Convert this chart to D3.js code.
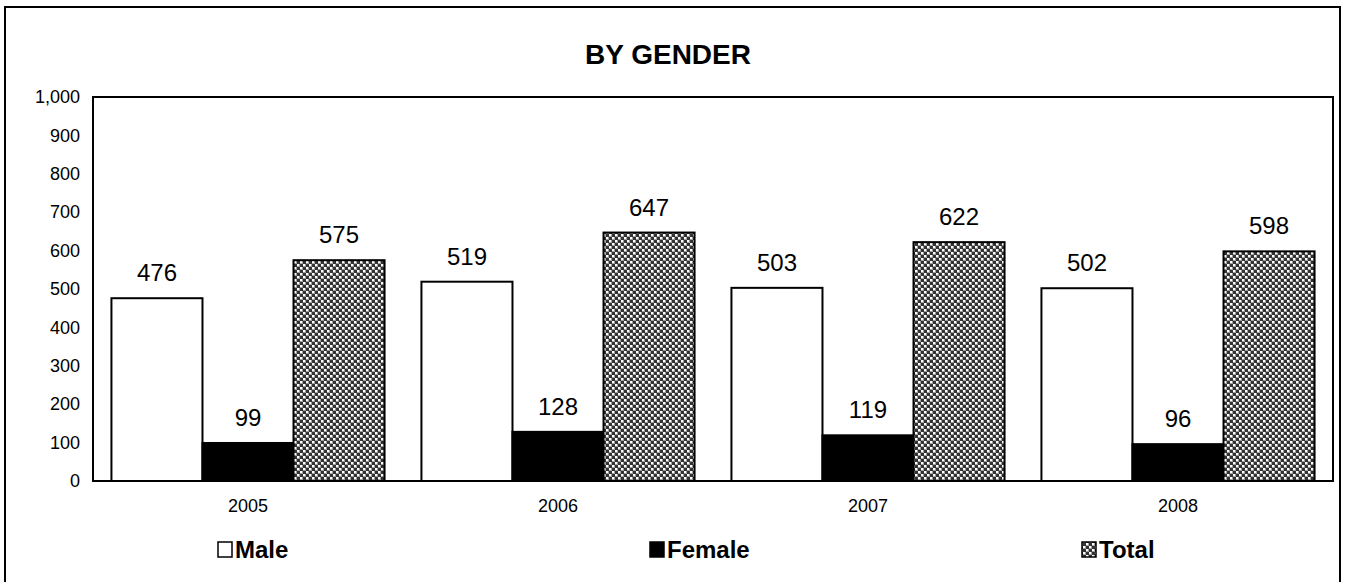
<!DOCTYPE html>
<html><head><meta charset="utf-8">
<script src="https://cdn.jsdelivr.net/npm/d3@7"></script>
<style>body{margin:0;background:#fff;font-family:"Liberation Sans",Arial,sans-serif;}</style>
</head><body><svg id="c" width="1346" height="582"></svg>
<script>
const years = ["2005","2006","2007","2008"];
const series = ["Male","Female","Total"];
const male = [476,519,503,502];
const female = [99,128,119,96];
const total = [575,647,622,598];
const yTicks = [0,100,200,300,400,500,600,700,800,900,1000];

const values = {Male: male, Female: female, Total: total};
const svg = d3.select("#c");
const font = '"Liberation Sans",Arial,sans-serif';

const defs = svg.append("defs");
const pat = defs.append("pattern").attr("id","chk").attr("patternUnits","userSpaceOnUse")
  .attr("width",6).attr("height",6);
pat.append("rect").attr("width",6).attr("height",6).attr("fill","#a0a0a0");
pat.append("rect").attr("x",0).attr("y",0).attr("width",3).attr("height",3).attr("fill","#333");
pat.append("rect").attr("x",3).attr("y",3).attr("width",3).attr("height",3).attr("fill","#333");
pat.append("rect").attr("x",3).attr("y",0).attr("width",2).attr("height",2).attr("fill","#fff");
pat.append("rect").attr("x",0).attr("y",3).attr("width",2).attr("height",2).attr("fill","#fff");
const fills = {Male:"#fff", Female:"#000", Total:"url(#chk)"};

// outer border
svg.append("rect").attr("x",5).attr("y",7).attr("width",1335).attr("height",580)
  .attr("fill","none").attr("stroke","#000").attr("stroke-width",2);

const L=93, R=1333, T=97, B=481;
const x0 = d3.scaleBand().domain(years).range([L,R]).paddingInner(0.119).paddingOuter(0.0595);
const x1 = d3.scaleBand().domain(series).range([0,x0.bandwidth()]);
const y = d3.scaleLinear().domain([0,1000]).range([B,T]);

svg.append("text").attr("x",668).attr("y",64).attr("text-anchor","middle")
  .attr("font-family",font).attr("font-size",28).attr("font-weight","bold").text("BY GENDER");

// y axis labels
const yAxis = d3.axisLeft(y).tickValues(yTicks).tickSize(0).tickPadding(13)
  .tickFormat(d3.format(","));
const ya = svg.append("g").attr("transform",`translate(${L},0)`).call(yAxis);
ya.select(".domain").remove();
ya.selectAll("text").attr("font-family",font).attr("font-size",18).attr("fill","#000");

// x axis labels
const xa = svg.append("g").attr("transform",`translate(0,${B})`)
  .call(d3.axisBottom(x0).tickSize(0).tickPadding(18));
xa.select(".domain").remove();
xa.selectAll("text").attr("font-family",font).attr("font-size",18).attr("fill","#000");

// bars
const g = svg.append("g");
years.forEach((yr,i)=>{
  series.forEach(s=>{
    const v = values[s][i];
    const bx = x0(yr)+x1(s);
    g.append("rect").attr("x",bx).attr("y",y(v)).attr("width",x1.bandwidth())
      .attr("height",y(0)-y(v)).attr("fill",fills[s]).attr("stroke","#000").attr("stroke-width",2);
    g.append("text").attr("x",bx+x1.bandwidth()/2).attr("y",y(v)-17).attr("text-anchor","middle")
      .attr("font-family",font).attr("font-size",24).attr("fill","#000").text(v);
  });
});

// plot frame
svg.append("rect").attr("x",L).attr("y",T).attr("width",R-L).attr("height",B-T)
  .attr("fill","none").attr("stroke","#000").attr("stroke-width",2);

// legend
const legX = d3.scalePoint().domain(series).range([218,1082]);
series.forEach(s=>{
  const lx = legX(s);
  svg.append("rect").attr("x",lx).attr("y",542).attr("width",14).attr("height",15)
    .attr("fill",fills[s]).attr("stroke","#000").attr("stroke-width",1.5);
  svg.append("text").attr("x",lx+17).attr("y",558).attr("font-family",font)
    .attr("font-size",24).attr("font-weight","bold").text(s);
});
</script></body></html>
